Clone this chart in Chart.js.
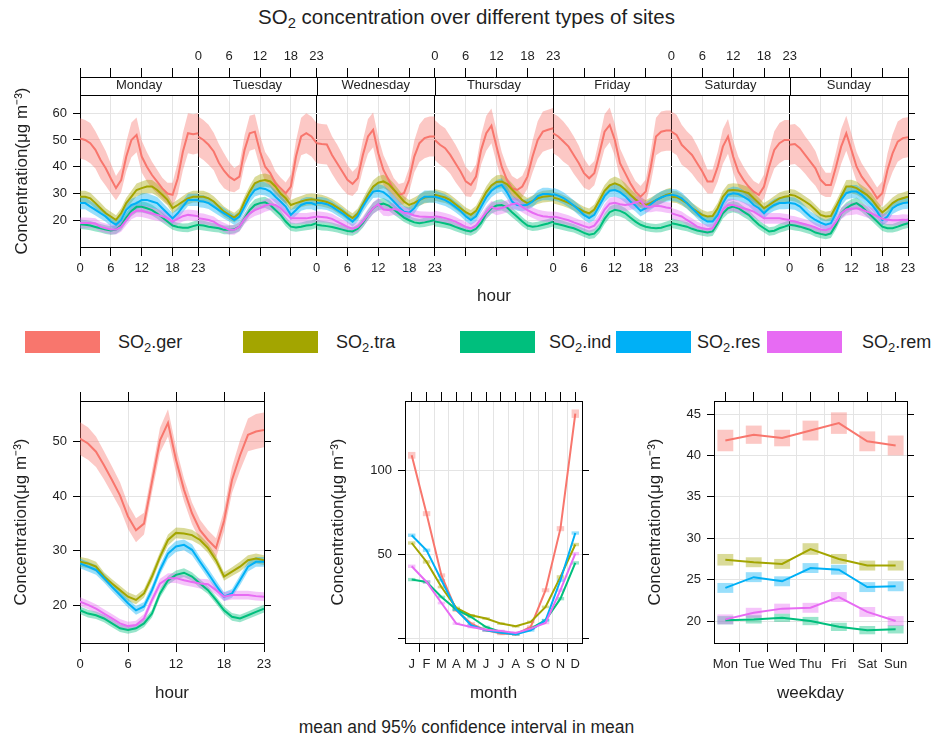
<!DOCTYPE html>
<html>
<head>
<meta charset="utf-8">
<script src="https://cdn.jsdelivr.net/npm/chart.js@4.4.1/dist/chart.umd.min.js"></script>
<style>
  body { margin: 0; background: #fff; width: 933px; height: 740px; position: relative; overflow: hidden;
         font-family: "Liberation Sans", Arial, Helvetica, sans-serif; color: #1f1f1f; }
  canvas { position: absolute; }
  .title { position: absolute; left: 0; width: 933px; top: 4px; line-height: 26px; text-align: center; font-size: 20.5px; }
  .footer { position: absolute; left: 0; width: 933px; top: 716px; line-height: 22px; text-align: center; font-size: 17.5px; }
  .sw { position: absolute; top: 331px; width: 75px; height: 22px; }
  .kt { position: absolute; top: 331px; height: 22px; line-height: 22px; font-size: 18px; white-space: nowrap; }
  sub { font-size: 0.72em; vertical-align: -0.3em; line-height: 0; }
</style>
</head>
<body>
<div class="title">SO<sub>2</sub> concentration over different types of sites</div>
<div id="keys"></div>
<canvas id="weekHours" width="933" height="270" style="left:0;top:40px"></canvas>
<canvas id="hourPanel" width="290" height="330" style="left:0;top:380px"></canvas>
<canvas id="monthPanel" width="300" height="330" style="left:300px;top:380px"></canvas>
<canvas id="dayPanel" width="323" height="330" style="left:610px;top:380px"></canvas>
<div class="footer">mean and 95% confidence interval in mean</div>
<script>
const days = ['Monday', 'Tuesday', 'Wednesday', 'Thursday', 'Friday', 'Saturday', 'Sunday']
const dayShort = ['Mon', 'Tue', 'Wed', 'Thu', 'Fri', 'Sat', 'Sun']
const months = ['J', 'F', 'M', 'A', 'M', 'J', 'J', 'A', 'S', 'O', 'N', 'D']
const hours = [0, 1, 2, 3, 4, 5, 6, 7, 8, 9, 10, 11, 12, 13, 14, 15, 16, 17, 18, 19, 20, 21, 22, 23]
const hourTicks = [0, 6, 12, 18, 23]
const siteTypes = ['ger', 'tra', 'ind', 'res', 'rem']
const siteColours = ['#F8766D', '#A3A500', '#00BF7D', '#00B0F6', '#E76BF3']

// hourly means per weekday, rows Monday..Sunday
const gerByDay = [
  [50.6, 50.0, 48.8, 46.3, 42.5, 39.4, 35.6, 32.0, 35.0, 43.8, 50.0, 51.9, 43.8, 40.0, 36.9, 34.4, 31.9, 30.0, 29.5, 35.6, 45.6, 52.5, 52.1, 52.5],
  [51.3, 50.0, 48.2, 45.7, 41.5, 38.5, 36.3, 35.0, 36.3, 46.3, 52.5, 53.1, 45.7, 40.0, 37.6, 33.8, 32.0, 30.1, 32.6, 43.8, 51.3, 52.5, 51.3, 48.8],
  [48.8, 48.5, 48.3, 44.4, 41.3, 38.2, 35.1, 33.6, 35.7, 44.4, 51.3, 53.8, 45.0, 38.8, 35.1, 31.3, 29.5, 30.1, 35.1, 43.8, 48.8, 50.7, 51.3, 51.3],
  [50.0, 48.2, 46.9, 44.4, 41.3, 38.2, 34.5, 33.2, 36.3, 46.3, 52.5, 55.3, 47.5, 40.0, 35.1, 32.0, 31.3, 32.6, 36.3, 43.8, 50.0, 53.1, 53.8, 54.4],
  [52.5, 51.3, 49.4, 47.5, 44.4, 41.3, 37.6, 35.7, 37.6, 45.0, 53.1, 55.6, 50.0, 41.3, 37.6, 33.8, 30.7, 28.8, 30.7, 40.0, 51.3, 53.1, 53.5, 53.5],
  [53.1, 51.9, 48.2, 46.3, 44.4, 41.3, 38.2, 34.5, 34.5, 40.0, 47.5, 51.3, 43.8, 38.2, 35.1, 32.6, 30.7, 29.5, 32.6, 40.0, 46.3, 48.8, 50.0, 50.0],
  [48.2, 48.5, 46.9, 44.4, 41.9, 39.4, 35.1, 33.2, 33.2, 40.0, 47.5, 52.5, 46.3, 40.0, 36.3, 33.8, 31.3, 28.2, 30.1, 38.8, 45.0, 49.4, 50.7, 51.0]
]
const traByDay = [
  [28.8, 28.8, 28.2, 26.4, 24.5, 22.6, 21.4, 20.1, 22.6, 26.4, 28.8, 31.3, 32.0, 32.6, 32.6, 31.3, 29.5, 27.6, 24.5, 25.7, 27.0, 28.2, 28.8, 28.8],
  [28.8, 28.8, 28.2, 27.0, 25.1, 23.2, 22.0, 21.0, 22.6, 27.0, 30.7, 33.8, 34.7, 35.0, 34.5, 32.6, 30.0, 28.2, 25.7, 26.4, 27.0, 27.6, 27.8, 27.6],
  [27.6, 27.3, 26.8, 26.0, 24.8, 23.5, 22.0, 20.8, 22.5, 26.0, 29.5, 32.5, 34.0, 34.5, 33.5, 31.5, 29.2, 27.0, 25.7, 26.5, 27.5, 28.5, 28.8, 28.8],
  [29.5, 29.0, 28.5, 27.5, 26.0, 24.5, 23.0, 22.0, 23.5, 27.0, 30.5, 33.0, 34.3, 34.5, 33.5, 31.5, 29.5, 27.5, 26.4, 27.2, 28.2, 28.8, 29.0, 29.2],
  [28.5, 28.0, 27.3, 26.5, 25.5, 24.3, 23.2, 22.6, 24.0, 27.5, 31.0, 33.0, 33.8, 33.0, 31.5, 29.5, 27.8, 26.5, 25.7, 26.5, 27.5, 28.5, 29.5, 30.0],
  [28.8, 28.6, 27.6, 26.4, 24.5, 23.2, 22.0, 21.4, 21.6, 24.5, 28.8, 31.1, 31.3, 31.1, 30.7, 30.1, 28.2, 26.4, 24.5, 25.7, 27.0, 28.2, 28.8, 29.1],
  [29.5, 29.2, 28.2, 27.0, 25.7, 23.9, 22.0, 21.4, 21.6, 25.1, 28.8, 32.6, 32.6, 32.0, 30.7, 29.5, 27.6, 25.1, 22.9, 24.5, 26.4, 27.6, 28.2, 28.8]
]
const indByDay = [
  [18.5, 18.3, 18.0, 17.5, 17.0, 16.5, 16.2, 16.5, 18.0, 21.0, 23.5, 25.0, 25.0, 24.5, 23.8, 22.5, 21.0, 19.5, 18.0, 17.5, 17.2, 17.2, 17.8, 18.3],
  [18.2, 18.0, 17.6, 17.3, 17.0, 16.4, 16.4, 16.6, 17.6, 20.7, 23.8, 25.7, 26.4, 26.7, 25.7, 23.8, 22.0, 19.5, 17.6, 17.3, 17.6, 18.0, 18.2, 18.9],
  [18.3, 18.0, 17.8, 17.5, 17.0, 16.5, 16.0, 15.8, 16.8, 19.0, 22.0, 24.5, 25.8, 26.2, 25.5, 24.0, 22.5, 21.0, 20.0, 19.2, 18.9, 19.2, 19.6, 20.1],
  [19.5, 19.2, 18.8, 18.3, 17.5, 16.8, 16.2, 15.8, 16.8, 19.0, 22.5, 24.5, 25.5, 25.7, 24.8, 23.0, 21.3, 19.5, 18.0, 17.6, 17.8, 18.3, 18.8, 19.5],
  [18.9, 18.5, 18.0, 17.5, 17.0, 16.2, 15.3, 14.6, 15.0, 17.0, 20.5, 23.0, 23.9, 23.5, 22.6, 21.0, 19.5, 18.3, 17.6, 17.2, 17.0, 17.2, 17.8, 18.3],
  [18.9, 18.5, 18.0, 17.6, 16.8, 16.2, 15.8, 15.4, 15.8, 18.9, 22.6, 24.5, 25.1, 24.5, 23.2, 22.0, 20.1, 18.3, 17.0, 15.8, 16.1, 17.0, 17.6, 18.3],
  [18.3, 18.0, 17.6, 17.0, 16.4, 15.4, 14.9, 14.5, 15.1, 18.3, 22.6, 24.5, 25.7, 26.4, 25.1, 23.2, 21.4, 19.5, 17.6, 17.0, 17.0, 17.6, 18.3, 18.9]
]
const resByDay = [
  [26.4, 26.4, 25.1, 23.9, 22.6, 21.4, 19.5, 18.3, 20.1, 23.9, 25.7, 26.4, 27.6, 27.6, 27.0, 26.4, 24.5, 22.6, 20.7, 22.6, 25.1, 27.6, 27.6, 27.6],
  [27.2, 27.0, 26.4, 25.1, 23.8, 22.6, 21.4, 20.1, 21.4, 25.1, 28.8, 31.3, 32.0, 31.7, 30.7, 28.8, 27.0, 25.1, 22.0, 23.8, 25.7, 26.4, 26.4, 25.7],
  [26.4, 26.4, 26.0, 25.1, 23.8, 22.6, 21.0, 19.5, 21.5, 25.1, 28.2, 30.7, 31.0, 30.5, 29.0, 27.0, 25.0, 23.2, 22.8, 24.5, 27.5, 28.8, 28.8, 28.8],
  [28.8, 28.2, 27.5, 26.4, 25.0, 23.5, 21.5, 20.1, 21.5, 25.0, 28.5, 31.0, 32.5, 33.2, 30.5, 27.0, 25.7, 25.5, 25.8, 27.0, 29.0, 29.8, 29.8, 29.5],
  [29.8, 29.2, 28.3, 27.0, 25.5, 23.8, 22.0, 20.8, 22.0, 25.5, 29.0, 31.0, 31.3, 30.5, 29.0, 27.0, 25.5, 23.5, 24.5, 26.0, 27.5, 28.5, 29.2, 29.5],
  [29.5, 29.2, 28.2, 26.4, 24.5, 22.6, 20.7, 19.5, 19.5, 22.0, 26.4, 29.5, 30.1, 29.8, 28.8, 27.6, 25.7, 24.5, 22.6, 24.5, 25.7, 26.4, 26.4, 26.6],
  [26.4, 26.2, 25.1, 23.2, 21.4, 20.1, 19.1, 18.3, 18.9, 22.6, 27.6, 30.1, 30.7, 30.7, 29.5, 27.6, 25.7, 23.2, 20.1, 21.4, 24.5, 25.7, 26.4, 26.6]
]
const remByDay = [
  [19.0, 19.0, 19.0, 18.8, 17.5, 17.0, 16.5, 16.5, 17.5, 20.0, 22.5, 23.5, 23.5, 23.0, 22.5, 22.0, 21.5, 20.8, 19.5, 20.5, 21.5, 22.0, 21.8, 21.5],
  [20.7, 20.5, 20.1, 19.5, 18.2, 17.3, 16.4, 16.4, 17.6, 20.5, 22.6, 23.8, 24.5, 25.5, 26.0, 25.7, 24.5, 22.6, 20.7, 20.7, 20.7, 20.7, 21.0, 21.3],
  [21.4, 21.2, 21.0, 20.5, 19.5, 18.5, 17.5, 16.8, 17.5, 19.5, 22.0, 24.5, 26.0, 24.0, 23.8, 24.2, 23.8, 22.8, 22.5, 21.8, 21.4, 21.3, 21.2, 21.2],
  [21.5, 21.2, 20.8, 20.2, 19.5, 18.5, 17.5, 17.0, 18.0, 20.5, 23.0, 25.0, 24.2, 24.6, 25.2, 26.0, 26.3, 25.0, 23.8, 22.8, 22.0, 21.5, 21.3, 21.2],
  [21.4, 21.0, 20.5, 20.0, 19.2, 18.5, 17.8, 17.2, 18.0, 20.5, 24.0, 26.2, 26.5, 26.0, 25.7, 26.0, 26.6, 27.2, 25.0, 25.0, 25.4, 25.2, 24.8, 24.5],
  [22.6, 22.0, 21.4, 20.1, 18.9, 17.6, 17.0, 16.6, 17.0, 20.1, 23.9, 25.7, 25.7, 25.1, 24.5, 23.9, 23.2, 22.0, 20.7, 20.7, 20.7, 20.7, 20.4, 20.1],
  [19.8, 19.5, 19.0, 18.5, 18.0, 17.3, 16.5, 16.3, 17.0, 19.5, 22.5, 24.0, 24.3, 24.5, 24.0, 23.2, 22.5, 21.5, 20.5, 20.2, 20.0, 20.0, 20.2, 20.1]
]
// half-width of the 95% interval by hour, weekday strips
const gerDayCI = [7.5, 7.5, 7.5, 7.0, 7.0, 6.5, 5.5, 4.5, 4.5, 5.5, 6.5, 6.5, 6.0, 5.5, 5.0, 4.5, 4.0, 4.0, 4.5, 6.0, 7.0, 7.5, 7.5, 7.5]
const traDayCI = [2.2, 2.2, 2.1, 2.0, 2.0, 1.9, 1.8, 1.8, 1.9, 2.0, 2.2, 2.4, 2.5, 2.5, 2.4, 2.3, 2.2, 2.0, 1.9, 2.0, 2.1, 2.2, 2.2, 2.2]
const indDayCI = [1.8, 1.8, 1.7, 1.7, 1.6, 1.6, 1.6, 1.6, 1.7, 1.8, 2.0, 2.1, 2.1, 2.1, 2.0, 1.9, 1.8, 1.7, 1.6, 1.6, 1.6, 1.7, 1.7, 1.8]
const resDayCI = [2.3, 2.3, 2.2, 2.1, 2.0, 2.0, 1.9, 1.9, 2.0, 2.1, 2.3, 2.4, 2.5, 2.5, 2.4, 2.3, 2.2, 2.1, 2.0, 2.1, 2.2, 2.3, 2.3, 2.3]
const remDayCI = [2.0, 2.0, 1.9, 1.9, 1.8, 1.8, 1.8, 1.8, 1.8, 1.9, 2.1, 2.2, 2.3, 2.3, 2.3, 2.2, 2.2, 2.1, 2.0, 2.0, 2.0, 2.0, 2.0, 2.0]

// diurnal profile over all days
const gerHour = [50.6, 49.7, 48.2, 45.7, 43.0, 40.2, 36.3, 33.8, 35.0, 42.7, 50.3, 53.5, 46.7, 41.2, 36.9, 33.8, 32.0, 30.5, 35.5, 43.0, 47.5, 51.3, 51.9, 52.2]
const traHour = [28.0, 27.7, 27.1, 25.3, 24.0, 22.8, 21.6, 21.0, 22.2, 25.3, 28.9, 32.0, 33.3, 33.2, 32.9, 32.0, 30.5, 28.3, 25.3, 26.2, 27.1, 28.3, 28.6, 28.3]
const indHour = [19.1, 18.5, 18.2, 17.6, 16.7, 15.8, 15.5, 15.8, 16.7, 18.5, 22.2, 24.6, 25.6, 26.0, 25.3, 24.0, 22.8, 21.0, 19.1, 17.9, 17.6, 18.2, 18.8, 19.4]
const resHour = [27.7, 27.1, 26.5, 25.0, 23.4, 21.9, 20.4, 19.1, 19.8, 22.8, 26.5, 29.5, 30.8, 31.1, 30.2, 28.0, 25.9, 23.7, 21.6, 22.2, 24.6, 27.1, 28.0, 28.0]
const remHour = [20.7, 20.1, 19.4, 18.5, 17.6, 16.7, 16.2, 16.4, 17.6, 21.0, 24.0, 25.0, 25.0, 24.6, 24.3, 24.0, 23.9, 22.8, 21.6, 21.9, 21.9, 21.9, 21.7, 21.6]
const gerHourCI = [3.0, 3.0, 2.8, 2.6, 2.5, 2.4, 2.3, 2.2, 2.0, 2.0, 2.3, 2.5, 2.3, 2.1, 2.0, 1.9, 1.8, 1.8, 2.0, 2.4, 2.8, 3.0, 3.2, 3.2]
const traHourCI = [0.9, 0.9, 0.9, 0.8, 0.8, 0.8, 0.8, 0.8, 0.8, 0.9, 0.9, 1.0, 1.0, 1.0, 1.0, 0.9, 0.9, 0.9, 0.8, 0.8, 0.9, 0.9, 0.9, 0.9]
const indHourCI = [0.7, 0.7, 0.7, 0.7, 0.7, 0.7, 0.7, 0.7, 0.7, 0.7, 0.8, 0.8, 0.8, 0.8, 0.8, 0.8, 0.7, 0.7, 0.7, 0.7, 0.7, 0.7, 0.7, 0.7]
const resHourCI = [0.9, 0.9, 0.9, 0.8, 0.8, 0.8, 0.8, 0.8, 0.8, 0.9, 0.9, 1.0, 1.0, 1.0, 1.0, 0.9, 0.9, 0.9, 0.8, 0.8, 0.9, 0.9, 0.9, 0.9]
const remHourCI = [0.8, 0.8, 0.8, 0.8, 0.8, 0.8, 0.8, 0.8, 0.8, 0.8, 0.9, 0.9, 0.9, 0.9, 0.9, 0.9, 0.9, 0.8, 0.8, 0.8, 0.8, 0.8, 0.8, 0.8]

// monthly means
const gerMonth = [108.9, 74.3, 37.7, 17.0, 9.1, 5.1, 3.2, 2.8, 7.1, 28.9, 65.4, 133.6]
const traMonth = [56.9, 45.7, 30.8, 18.4, 14.0, 12.1, 9.1, 7.5, 10.1, 19.0, 36.8, 56.0]
const indMonth = [35.2, 33.8, 24.9, 17.4, 13.0, 7.1, 4.2, 2.8, 6.1, 11.1, 23.9, 45.1]
const resMonth = [61.5, 52.6, 34.8, 17.4, 8.1, 5.1, 3.6, 2.8, 5.1, 11.1, 34.8, 62.8]
const remMonth = [43.1, 33.8, 21.3, 9.1, 7.1, 5.5, 4.7, 3.6, 6.1, 9.5, 28.9, 50.6]
const gerMonthCI = [2.0, 1.5, 1.2, 1.0, 1.0, 1.0, 1.0, 1.0, 1.0, 1.2, 1.5, 2.5]
const traMonthCI = [1.0, 1.0, 0.8, 0.8, 0.8, 0.8, 0.8, 0.8, 0.8, 0.8, 1.0, 1.0]
const indMonthCI = [1.0, 1.0, 0.8, 0.8, 0.8, 0.8, 0.8, 0.8, 0.8, 0.8, 1.0, 1.0]
const resMonthCI = [1.0, 1.0, 0.8, 0.8, 0.8, 0.8, 0.8, 0.8, 0.8, 0.8, 1.0, 1.0]
const remMonthCI = [1.0, 1.0, 0.8, 0.8, 0.8, 0.8, 0.8, 0.8, 0.8, 0.8, 1.0, 1.0]

// weekday means
const gerWeekday = [41.8, 42.5, 42.1, 43.0, 43.9, 41.7, 41.2]
const traWeekday = [27.4, 27.1, 26.9, 28.7, 27.5, 26.7, 26.7]
const indWeekday = [20.1, 20.2, 20.4, 20.0, 19.3, 18.9, 19.0]
const resWeekday = [24.0, 25.3, 24.8, 26.4, 26.2, 24.1, 24.2]
const remWeekday = [20.2, 21.0, 21.5, 21.6, 22.9, 21.1, 20.0]
const gerWeekdayCI = [1.3, 1.1, 1.0, 1.2, 1.3, 1.2, 1.2]
const traWeekdayCI = [0.7, 0.6, 0.6, 0.7, 0.6, 0.6, 0.6]
const indWeekdayCI = [0.5, 0.5, 0.5, 0.5, 0.5, 0.5, 0.5]
const resWeekdayCI = [0.6, 0.6, 0.6, 0.6, 0.6, 0.6, 0.6]
const remWeekdayCI = [0.6, 0.6, 0.6, 0.6, 0.6, 0.6, 0.6]

const FONT = '"Liberation Sans", Arial, Helvetica, sans-serif'
const INK = '#1f1f1f'
const GRID = '#e4e4e4'
const yTitle = 'Concentration(μg m⁻³)'
const tickFont = { family: FONT, size: 13 }
const titleFont = { family: FONT, size: 17 }

const byDay = [gerByDay, traByDay, indByDay, resByDay, remByDay]
const dayCI = [gerDayCI, traDayCI, indDayCI, resDayCI, remDayCI]
const hourMeans = [gerHour, traHour, indHour, resHour, remHour]
const hourCI = [gerHourCI, traHourCI, indHourCI, resHourCI, remHourCI]
const monthMeans = [gerMonth, traMonth, indMonth, resMonth, remMonth]
const monthCI = [gerMonthCI, traMonthCI, indMonthCI, resMonthCI, remMonthCI]
const weekdayMeans = [gerWeekday, traWeekday, indWeekday, resWeekday, remWeekday]
const weekdayCI = [gerWeekdayCI, traWeekdayCI, indWeekdayCI, resWeekdayCI, remWeekdayCI]

function fade(hex, a) {
  const n = parseInt(hex.slice(1), 16)
  return 'rgba(' + (n >> 16) + ',' + ((n >> 8) & 255) + ',' + (n & 255) + ',' + a + ')'
}

// lower edge, upper edge filled down to it, then the mean line
function addBand(list, xs, ys, ci, colour, s) {
  list.push({ data: xs.map((x, i) => ({ x: x, y: ys[i] - ci[i] })), borderWidth: 0, pointRadius: 0, fill: false, order: 100 - s })
  list.push({ data: xs.map((x, i) => ({ x: x, y: ys[i] + ci[i] })), borderWidth: 0, pointRadius: 0,
    backgroundColor: fade(colour, 0.4), fill: '-1', order: 100 - s })
  list.push({ data: xs.map((x, i) => ({ x: x, y: ys[i] })), borderColor: colour, borderWidth: 2, pointRadius: 0, fill: false, order: 10 - s })
}

function addBoxes(list, xs, ys, ci, colour, s, width) {
  list.push({ type: 'bar', data: xs.map((x, i) => ({ x: x, y: [ys[i] - ci[i], ys[i] + ci[i]] })),
    backgroundColor: fade(colour, 0.4), borderWidth: 0, grouped: false, barPercentage: width, categoryPercentage: 1, order: 100 - s })
  list.push({ type: 'line', data: xs.map((x, i) => ({ x: x, y: ys[i] })), borderColor: colour, borderWidth: 2, pointRadius: 0, fill: false, order: 10 - s })
}

function fixedTicks(values) {
  return sc => { sc.ticks = values.map(v => ({ value: v })) }
}

function valueAxis(min, max, ticks, width, titlePad, label) {
  return {
    type: 'linear', position: 'left', min: min, max: max,
    afterBuildTicks: fixedTicks(ticks),
    afterFit: sc => { sc.width = width },
    ticks: { font: tickFont, color: INK, padding: 6, callback: label || (v => v) },
    grid: { color: GRID, tickLength: 7, tickColor: '#000' },
    border: { color: '#000' },
    title: { display: true, text: yTitle, font: titleFont, color: INK, padding: { top: titlePad, bottom: 0 } }
  }
}

function mirrorAxis(min, max, ticks, width) {
  return {
    type: 'linear', position: 'right', min: min, max: max,
    afterBuildTicks: fixedTicks(ticks),
    afterFit: sc => { sc.width = width },
    ticks: { callback: () => '' },
    grid: { drawOnChartArea: false, tickLength: 7, tickColor: '#000' },
    border: { color: '#000' }
  }
}

function bottomAxis(min, max, ticks, label, name, height) {
  return {
    type: 'linear', position: 'bottom', min: min, max: max, offset: false,
    afterBuildTicks: fixedTicks(ticks),
    afterFit: sc => { sc.height = height },
    ticks: { autoSkip: false, maxRotation: 0, font: tickFont, color: INK, padding: 5, callback: label },
    grid: { color: GRID, tickLength: 9, tickColor: '#000' },
    border: { color: '#000' },
    title: { display: true, text: name, font: titleFont, color: INK, padding: { top: 0, bottom: 6 } }
  }
}

function topAxis(min, max, ticks, height) {
  return {
    type: 'linear', position: 'top', min: min, max: max, offset: false,
    afterBuildTicks: fixedTicks(ticks),
    afterFit: sc => { sc.height = height },
    ticks: { callback: () => '' },
    grid: { drawOnChartArea: false, tickLength: 9, tickColor: '#000' },
    border: { color: '#000' }
  }
}

const baseOptions = {
  responsive: false, animation: false, events: [],
  layout: { padding: 0 },
  plugins: { legend: { display: false }, tooltip: { enabled: false } }
}

// ---- hour x weekday strips ----
const span = 23
const stripTicks = []
days.forEach((d, i) => hourTicks.forEach(h => {
  if (stripTicks.indexOf(i * span + h) < 0) stripTicks.push(i * span + h)
}))
function stripHour(p, first) {
  for (let d = first; d < days.length; d += 2) {
    if (p >= d * span && p <= d * span + span) return String(p - d * span)
  }
  return ''
}

const weekSets = []
siteTypes.forEach((t, s) => {
  days.forEach((d, i) => {
    addBand(weekSets, hours.map(h => i * span + h), byDay[s][i], dayCI[s], siteColours[s], s)
  })
})

const stripFrame = {
  id: 'stripFrame',
  afterDraw(chart) {
    const st = chart.scales.strip, x = chart.scales.x, ctx = chart.ctx
    ctx.save()
    ctx.strokeStyle = '#000'
    ctx.lineWidth = 1
    ctx.beginPath()
    for (let d = 0; d <= days.length; d++) {
      const px = Math.round(x.getPixelForValue(d * span)) + 0.5
      ctx.moveTo(px, st.top)
      ctx.lineTo(px, st.bottom)
    }
    ctx.moveTo(x.left, Math.round(st.bottom) + 0.5)
    ctx.lineTo(x.right, Math.round(st.bottom) + 0.5)
    ctx.stroke()
    ctx.restore()
  }
}

const xWeek = bottomAxis(0, days.length * span, stripTicks, v => stripHour(v, 0), 'hour', 63)
xWeek.grid.color = c => (c.tick && c.tick.value % span === 0 ? '#000' : GRID)
xWeek.title.padding = { top: 0, bottom: 3 }
const xWeekTop = topAxis(0, days.length * span, stripTicks, 37)
xWeekTop.weight = 10
xWeekTop.ticks = { autoSkip: false, maxRotation: 0, font: tickFont, color: INK, padding: 4, callback: v => stripHour(v, 1) }

new Chart(document.getElementById('weekHours'), {
  type: 'line',
  data: { datasets: weekSets },
  options: Object.assign({}, baseOptions, {
    scales: {
      x: xWeek,
      x2: xWeekTop,
      strip: {
        type: 'category', labels: days, position: 'top', offset: true, weight: 0,
        afterFit: sc => { sc.height = 18 },
        grid: { display: false, drawTicks: false },
        border: { display: false },
        ticks: { font: tickFont, color: INK, padding: 2 }
      },
      y: valueAxis(10, 66.8, [20, 30, 40, 50, 60], 80, 12),
      y2: mirrorAxis(10, 66.8, [20, 30, 40, 50, 60], 25)
    }
  }),
  plugins: [stripFrame]
})

// ---- diurnal panel ----
const hourSets = []
siteTypes.forEach((t, s) => addBand(hourSets, hours, hourMeans[s], hourCI[s], siteColours[s], s))

new Chart(document.getElementById('hourPanel'), {
  type: 'line',
  data: { datasets: hourSets },
  options: Object.assign({}, baseOptions, {
    scales: {
      x: bottomAxis(0, 23, hourTicks, v => v, 'hour', 67),
      x2: topAxis(0, 23, hourTicks, 21),
      y: valueAxis(13.1, 57.5, [20, 30, 40, 50], 80, 11),
      y2: mirrorAxis(13.1, 57.5, [20, 30, 40, 50], 26)
    }
  })
})

// ---- monthly panel ----
const monthIdx = months.map((m, i) => i)
const monthSets = []
siteTypes.forEach((t, s) => addBoxes(monthSets, monthIdx, monthMeans[s], monthCI[s], siteColours[s], s, 0.5))

new Chart(document.getElementById('monthPanel'), {
  type: 'line',
  data: { datasets: monthSets },
  options: Object.assign({}, baseOptions, {
    scales: {
      x: bottomAxis(-0.45, 11.45, monthIdx, v => months[v], 'month', 67),
      x2: topAxis(-0.45, 11.45, monthIdx, 21),
      y: valueAxis(-2.4, 141.1, [0, 50, 100], 105, 28, v => (v === 0 ? '' : v)),
      y2: mirrorAxis(-2.4, 141.1, [0, 50, 100], 18)
    }
  })
})

// ---- weekday panel ----
const dayIdx = dayShort.map((d, i) => i)
const weekdaySets = []
siteTypes.forEach((t, s) => addBoxes(weekdaySets, dayIdx, weekdayMeans[s], weekdayCI[s], siteColours[s], s, 0.56))

new Chart(document.getElementById('dayPanel'), {
  type: 'line',
  data: { datasets: weekdaySets },
  options: Object.assign({}, baseOptions, {
    scales: {
      x: bottomAxis(-0.4, 6.4, dayIdx, v => dayShort[v], 'weekday', 67),
      x2: topAxis(-0.4, 6.4, dayIdx, 21),
      y: valueAxis(17.35, 46.57, [20, 25, 30, 35, 40, 45], 104, 35),
      y2: mirrorAxis(17.35, 46.57, [20, 25, 30, 35, 40, 45], 26)
    }
  })
})

// shared key: swatch and label positions
const swatchLeft = [25, 243, 460, 616, 767]
const labelLeft = [118, 336, 549, 697, 862]
const keys = document.getElementById('keys')
siteTypes.forEach((t, s) => {
  const sw = document.createElement('div')
  sw.className = 'sw'
  sw.style.left = swatchLeft[s] + 'px'
  sw.style.background = siteColours[s]
  keys.appendChild(sw)
  const lab = document.createElement('div')
  lab.className = 'kt'
  lab.style.left = labelLeft[s] + 'px'
  lab.innerHTML = 'SO<sub>2</sub>.' + t
  keys.appendChild(lab)
})
</script>
</body>
</html>
